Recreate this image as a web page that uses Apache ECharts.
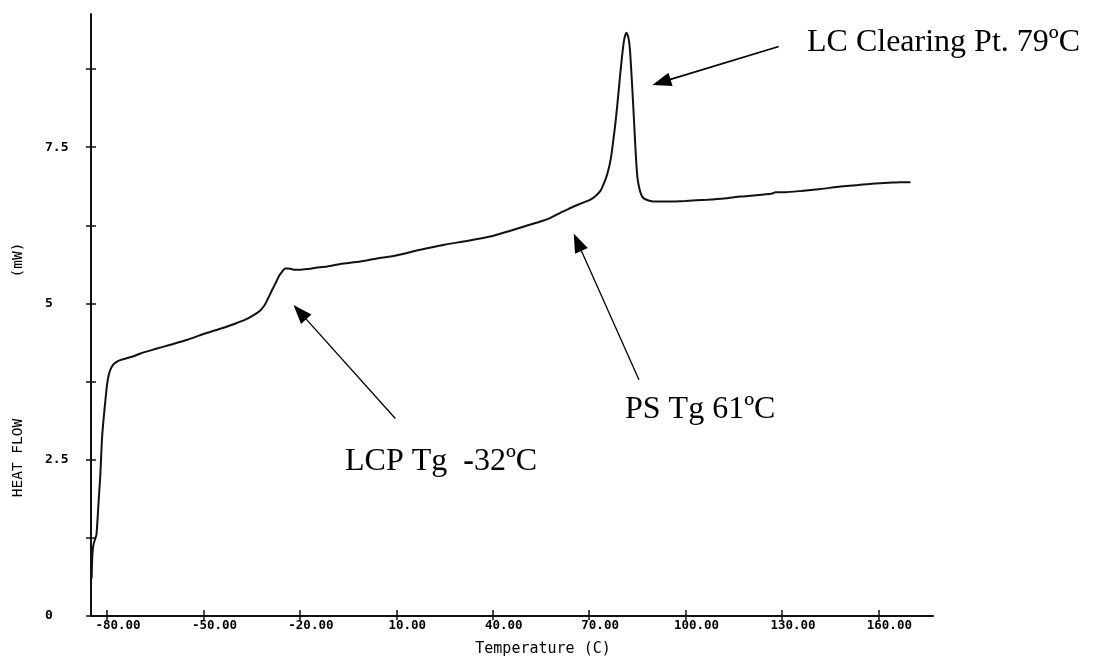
<!DOCTYPE html>
<html>
<head>
<meta charset="utf-8">
<script src="https://cdn.jsdelivr.net/npm/echarts@6/dist/echarts.min.js"></script>
<style>
html,body{margin:0;padding:0;background:#fff;}
#chart{width:1101px;height:658px;}
</style>
</head>
<body>
<div id="chart"></div>
<script>
// Temperature (C) readings along the DSC trace
var temps = [-84.8,-84.6,-84.3,-83.8,-83.3,-82.6,-82.1,-81.6,-81.1,-80.5,-80.0,-79.5,-78.8,-77.9,-76.5,-74.8,-72.0,-69.6,-65.0,-60.3,-55.0,-50.0,-45.0,-40.0,-37.0,-34.5,-32.5,-31.0,-30.0,-28.8,-27.6,-26.5,-25.5,-24.6,-23.5,-21.9,-19.8,-17.8,-15.0,-11.5,-7.4,-1.2,4.0,9.2,17.5,25.0,32.0,40.0,46.0,51.0,54.9,58.0,61.0,63.5,65.2,67.5,70.4,72.0,73.5,74.6,75.7,76.7,77.5,78.3,79.0,79.6,80.3,80.9,81.6,82.2,82.7,83.4,83.9,84.5,85.0,85.5,86.2,87.0,89.0,91.2,95.0,100.0,106.7,112.0,117.1,122.0,127.0,128.0,131.0,136.0,142.0,148.2,153.0,158.6,163.0,167.0,170.0];
// Heat flow (mW)
var heatFlow = [0.60,0.95,1.12,1.22,1.30,1.86,2.25,2.82,3.14,3.46,3.70,3.85,3.96,4.03,4.08,4.11,4.15,4.20,4.27,4.34,4.42,4.51,4.59,4.68,4.74,4.81,4.88,4.97,5.07,5.20,5.32,5.44,5.51,5.56,5.56,5.54,5.54,5.55,5.57,5.59,5.63,5.67,5.72,5.76,5.86,5.94,6.00,6.08,6.17,6.25,6.31,6.37,6.45,6.51,6.55,6.60,6.66,6.72,6.80,6.92,7.08,7.30,7.60,7.94,8.30,8.63,8.98,9.22,9.33,9.26,9.06,8.47,7.99,7.40,7.03,6.87,6.74,6.68,6.64,6.63,6.63,6.64,6.66,6.68,6.71,6.73,6.76,6.78,6.78,6.80,6.83,6.87,6.89,6.92,6.93,6.94,6.94];

var xTicks = [-80,-50,-20,10,40,70,100,130,160];
var yTicks = [0,1.25,2.5,3.75,5,6.25,7.5,8.75];
var yLabels = [0,2.5,5,7.5];

// annotation arrows: [tail, arrowhead centre] in data units
var arrowLC  = [[129.0, 9.11],[92.5, 8.54]];
var arrowPS  = [[85.5, 3.78],[66.4, 5.98]];
var arrowLCP = [[9.7, 3.16],[-20.0, 4.86]];

var xMin = -85, xMax = 177, yMin = 0, yMax = 9.63;

var pts = temps.map(function(t,i){return [t, heatFlow[i]];});

var monoFont = '"DejaVu Sans Mono", monospace';
var serif = '"Liberation Serif", "Times New Roman", serif';

var chart = echarts.init(document.getElementById('chart'), null, {renderer:'canvas'});

function arrowLine(a, w){
  return [{coord:a[0], symbol:'none'},{coord:a[1], symbol:'triangle', symbolSize:[14,19], lineStyle:{width:w}}];
}

var option = {
  backgroundColor:'#ffffff',
  animation:false,
  grid:{left:91, right:168, top:14, bottom:42, containLabel:false, outerBoundsMode:'none'},
  xAxis:[{
    type:'value', min:xMin, max:xMax, position:'bottom',
    axisLine:{show:true, onZero:false, lineStyle:{color:'#111', width:2}},
    axisTick:{show:true, inside:false, length:4, customValues:xTicks, lineStyle:{color:'#111', width:1.5}},
    axisLabel:{show:true, customValues:xTicks, margin:3, color:'#000', fontFamily:monoFont, fontSize:12.5, fontWeight:'bold',
      padding:[0,0,0,22],
      formatter:function(v){return v.toFixed(2);}},
    splitLine:{show:false},
    name:'Temperature (C)', nameLocation:'middle', nameGap:26,
    nameTextStyle:{fontFamily:monoFont, fontSize:15, color:'#000', padding:[0,0,0,62]}
  },{
    type:'value', min:xMin, max:xMax, position:'top', offset:-602,
    axisLine:{show:false, onZero:false},
    axisTick:{show:true, length:6, customValues:xTicks, lineStyle:{color:'#111', width:1.5}},
    axisLabel:{show:false},
    splitLine:{show:false}
  }],
  yAxis:[{
    type:'value', min:yMin, max:yMax, position:'left',
    axisLine:{show:true, onZero:false, lineStyle:{color:'#111', width:2}},
    axisTick:{show:true, inside:false, length:5, customValues:yTicks, lineStyle:{color:'#111', width:1.5}},
    axisLabel:{show:true, customValues:yLabels, margin:46, align:'left', color:'#000', fontFamily:monoFont, fontSize:13, fontWeight:'bold',
      formatter:function(v){return String(v);}},
    splitLine:{show:false}
  },{
    type:'value', min:yMin, max:yMax, position:'right', offset:-842,
    axisLine:{show:false, onZero:false},
    axisTick:{show:true, length:5, customValues:yTicks, lineStyle:{color:'#111', width:1.5}},
    axisLabel:{show:false},
    splitLine:{show:false}
  }],
  series:[{
    type:'line', data:pts, xAxisIndex:0, yAxisIndex:0,
    showSymbol:false, smooth:0.2,
    lineStyle:{color:'#111', width:2},
    markLine:{
      silent:true, animation:false,
      symbol:['none','triangle'],
      label:{show:false},
      lineStyle:{color:'#000', type:'solid', width:1.3},
      emphasis:{disabled:true},
      data:[arrowLine(arrowLC,1.8), arrowLine(arrowPS,1.3), arrowLine(arrowLCP,1.3)]
    }
  }],
  graphic:[
    {type:'text', x:18, y:458, rotation:Math.PI/2,
      style:{text:'HEAT FLOW', font:'14.5px ' + monoFont, fill:'#000', align:'center', verticalAlign:'middle'}},
    {type:'text', x:18, y:260, rotation:Math.PI/2,
      style:{text:'(mW)', font:'14.5px ' + monoFont, fill:'#000', align:'center', verticalAlign:'middle'}},
    {type:'text', x:807, y:43,
      style:{text:'LC Clearing Pt. 79ºC', font:'32px ' + serif, fill:'#000', align:'left', verticalAlign:'middle'}},
    {type:'text', x:625, y:410,
      style:{text:'PS Tg 61ºC', font:'32px ' + serif, fill:'#000', align:'left', verticalAlign:'middle'}},
    {type:'text', x:345, y:462,
      style:{text:'{a|LCP Tg  }{b|-}{a|32ºC}', align:'left', verticalAlign:'middle',
        rich:{a:{font:'32px ' + serif, fill:'#000'}, b:{font:'bold 32px ' + serif, fill:'#000'}}}}
  ]
};
chart.setOption(option);
</script>
</body>
</html>
